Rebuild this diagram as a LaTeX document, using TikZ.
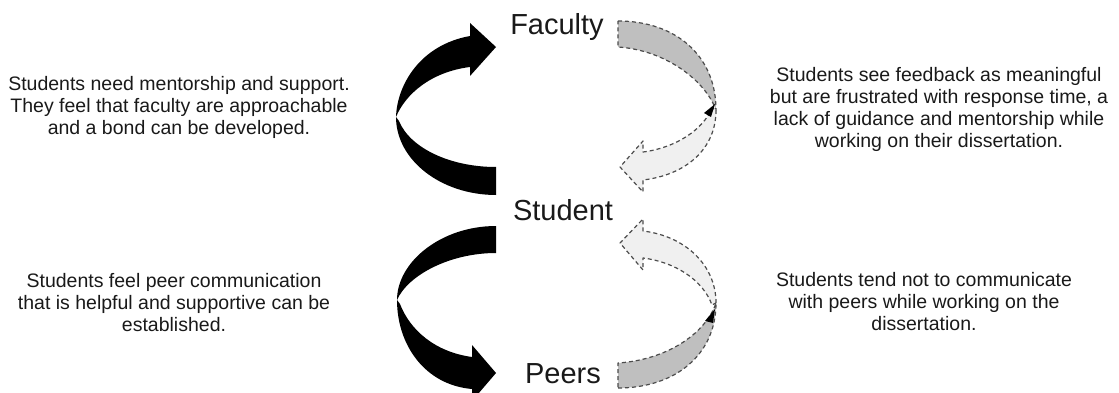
\documentclass[tikz,border=0pt]{standalone}
\usepackage{fontspec}
\setmainfont{Liberation Sans}
\usepackage{tikz}
\usetikzlibrary{arrows}
\begin{document}
\begin{tikzpicture}[x=1pt,y=-1pt,semithick]
\tikzstyle{every node}=[inner sep=0pt,text=black!90]
\tikzstyle{role}=[font=\fontsize{29}{32}\selectfont,anchor=base]
\tikzstyle{note}=[font=\fontsize{19.5}{22}\selectfont,align=center,anchor=north]
\tikzstyle{solid arrow}=[fill=black,draw=none]
\tikzstyle{dash back}=[fill=black!25,draw=black!70,line width=1.2pt,dash pattern=on 4pt off 3pt,line join=round]
\tikzstyle{dash front}=[fill=black!6,draw=black!70,line width=1.2pt,dash pattern=on 4pt off 3pt,line join=round]
\useasboundingbox (0,0) rectangle (1119,393);

\node[role] (F) at (557,35) {Faculty};
\node[role] (S) at (563,220) {Student};
\node[role] (P) at (563,383) {Peers};

\node[note] (FS) at (179,76) {Students need mentorship and support.\\They feel that faculty are approachable\\and a bond can be developed.};
\node[note] (SF) at (939,67) {Students see feedback as meaningful\\but are frustrated with response time, a\\lack of guidance and mentorship while\\working on their dissertation.};
\node[note] (SP) at (174,273) {Students feel peer communication\\that is helpful and supportive can be\\established.};
\node[note] (PS) at (924,272) {Students tend not to communicate\\with peers while working on the\\dissertation.};

% student to faculty
\fill[solid arrow] (470,36) .. controls (420,45) and (397,85) .. (396,117)
  .. controls (405,95) and (430,72) .. (470,67) -- (470,76) -- (496,47) -- (470,23) -- cycle;
\fill[solid arrow] (396,117) .. controls (396,160) and (441,195) .. (496,195)
  -- (496,167) .. controls (450,167) and (410,148) .. (399,121) -- cycle;

% student to peers
\fill[solid arrow] (496,226) .. controls (441,226) and (397,262) .. (397,300)
  .. controls (408,275) and (450,253) .. (496,253) -- cycle;
\fill[solid arrow] (397,300) .. controls (397,345) and (425,385) .. (472,389)
  -- (472,401) -- (496,373) -- (472,345) -- (472,357) .. controls (435,352) and (410,330) .. (400,304) -- cycle;

% faculty to student
\filldraw[dash back] (618,21) .. controls (675,21) and (716,55) .. (716,110)
  .. controls (705,80) and (665,50) .. (618,47) -- cycle;
\filldraw[dash front] (716,110) .. controls (716,150) and (685,175) .. (643,180)
  -- (643,192) -- (620,167) -- (643,141) -- (643,152) .. controls (675,148) and (703,130) .. (712,108) -- cycle;
\fill (704,113) -- (715,104) -- (711,117) -- cycle;

% peers to student
\filldraw[dash back] (618,388) .. controls (675,388) and (716,355) .. (716,303)
  .. controls (705,335) and (665,360) .. (618,363) -- cycle;
\filldraw[dash front] (716,303) .. controls (716,265) and (685,236) .. (643,231)
  -- (643,219) -- (620,243) -- (643,270) -- (643,258) .. controls (675,262) and (703,280) .. (712,305) -- cycle;
\fill (705,321) -- (715,309) -- (713,323) -- cycle;
\end{tikzpicture}
\end{document}
